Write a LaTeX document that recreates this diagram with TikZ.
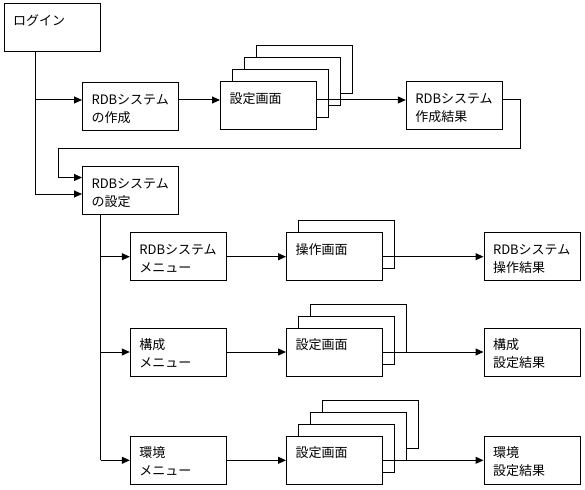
\documentclass[tikz,border=0pt]{standalone}
\usepackage{fontspec}
\usetikzlibrary{arrows.meta,calc}
\newfontfamily\jpfont{Noto Sans CJK JP}
\newcommand\twol[2]{\vbox to 30pt{\hbox to 78pt{\strut#1\hfil}\hbox to 78pt{\strut#2\hfil}\vss}}
\newcommand\onel[1]{\vbox to 30pt{\hbox to 78pt{\strut#1\hfil}\vss}}
\begin{document}
\begin{tikzpicture}[x=1pt,y=-1pt,
  box/.style={draw=black,fill=white,line width=1pt,minimum width=96pt,minimum height=48pt,inner sep=0pt,
    font=\jpfont\fontsize{13}{18}\selectfont},
  bk/.style={box,minimum width=96pt,minimum height=48pt},
  arr/.style={line width=1pt,-{Triangle[length=8pt,width=7pt]}},
  ln/.style={line width=1pt}]
\useasboundingbox[fill=white] (0,0) rectangle (585,489);
% top part
\node[box] (login) at (52,28) {\twol{ログイン}{}};
\node[box] (mk) at (130.5,106.5) {\twol{RDBシステム}{の作成}};
\node[bk] (s1c) at (304.5,70) {};
\node[bk] (s1b) at (292.5,82) {};
\node[bk] (s1a) at (280.5,94) {};
\node[box] (s1) at (268.5,106) {\onel{設定画面}};
\node[box] (r1) at (454.3,106) {\twol{RDBシステム}{作成結果}};
\node[box] (set) at (130.5,190.5) {\twol{RDBシステム}{の設定}};
% row 1
\node[box] (m1) at (178.3,256.7) {\twol{RDBシステム}{メニュー}};
\node[bk] (o1a) at (346.5,244.7) {};
\node[box] (o1) at (334.5,256.7) {\onel{操作画面}};
\node[box] (q1) at (532,256.7) {\twol{RDBシステム}{操作結果}};
% row 2
\node[box] (m2) at (178.3,352) {\twol{構成}{メニュー}};
\node[bk] (o2b) at (358.5,328) {};
\node[bk] (o2a) at (346.5,340) {};
\node[box] (o2) at (334.5,352) {\onel{設定画面}};
\node[box] (q2) at (532,352) {\twol{構成}{設定結果}};
% row 3
\node[box] (m3) at (178.3,460.3) {\twol{環境}{メニュー}};
\node[bk] (o3c) at (370.5,424.3) {};
\node[bk] (o3b) at (358.5,436.3) {};
\node[bk] (o3a) at (346.5,448.3) {};
\node[box] (o3) at (334.5,460.3) {\onel{設定画面}};
\node[box] (q3) at (532,460.3) {\twol{環境}{設定結果}};
% connectors top
\coordinate (j1) at (35,100);
\coordinate (j2) at (35,194);
\coordinate (k) at (520.5,148);
\coordinate (j3) at (58,177.5);
\draw[ln] (login.south -| j1) -- (j2);
\draw[arr] (j1) -- (j1 -| mk.west);
\draw[arr] (j2) -- (j2 -| set.west);
\draw[arr] (j1 -| mk.east) -- (j1 -| s1.west);
\draw[arr] (j1 -| s1.east) -- (j1 -| r1.west);
\draw[arr] (j1 -| r1.east) -| (k) -| (j3) -- (j3 -| set.west);
% connectors bottom
\coordinate (v) at (100.7,214.5);
\draw[ln] (v) -- (v |- m3.west);
\draw[arr] (v |- m1.west) -- (m1.west);
\draw[arr] (v |- m2.west) -- (m2.west);
\draw[arr] (v |- m3.west) -- (m3.west);
\draw[arr] (m1.east) -- (o1.west);
\draw[arr] (m2.east) -- (o2.west);
\draw[arr] (m3.east) -- (o3.west);
\draw[arr] (o1.east) -- (q1.west);
\draw[arr] (o2.east) -- (q2.west);
\draw[arr] (o3.east) -- (q3.west);
\end{tikzpicture}
\end{document}
